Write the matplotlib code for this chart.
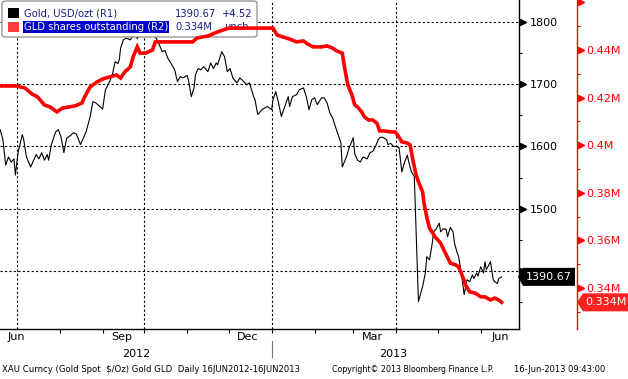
import matplotlib
matplotlib.use("Agg")
import matplotlib.pyplot as plt
import matplotlib.dates as mdates
import matplotlib.transforms as mtransforms
from matplotlib.patches import Rectangle, FancyBboxPatch, Polygon
from matplotlib.lines import Line2D
import pandas as pd

# Gold spot vs GLD shares outstanding, 16 Jun 2012 - 16 Jun 2013
start = pd.Timestamp("2012-06-16")

# gold spot, USD/ozt (days after start, value)
gold_day = [3, 5, 7, 9, 11, 13, 14, 16, 19, 20, 22, 25, 27, 29, 31, 33, 35, 37, 38, 40,
            43, 45, 47, 49, 51, 54, 56, 58, 61, 63, 65, 68, 70, 72, 75, 77, 79, 80, 82, 84,
            86, 88, 89, 90, 92, 94, 97, 99, 100, 102, 105, 108, 110, 113, 115, 117, 120, 122,
            124, 127, 129, 131, 133, 135, 138, 139, 141, 143, 144, 146, 148, 150, 153, 155,
            157, 159, 160, 163, 165, 167, 169, 171, 174, 176, 178, 181, 183, 186, 187, 189,
            192, 194, 196, 199, 200, 202, 204, 206, 209, 211, 212, 214, 217, 219, 222, 224,
            226, 228, 230, 232, 235, 237, 239, 241, 243, 245, 247, 249, 250, 253, 255, 258,
            259, 261, 263, 265, 268, 270, 272, 274, 276, 277, 279, 282, 283, 285, 287, 289,
            291, 293, 295, 297, 298, 300, 302, 305, 308, 310, 311, 313, 315, 316, 318, 320,
            321, 323, 325, 326, 328, 330, 331, 333, 334, 336, 338, 340, 342, 344, 345, 347,
            348, 350, 352, 353, 354, 357, 359, 360, 362, 363, 365]
gold_usd = [1627, 1611, 1570, 1583, 1575, 1580, 1554, 1591, 1619, 1611, 1583, 1567, 1577,
            1587, 1580, 1590, 1578, 1587, 1578, 1603, 1623, 1627, 1615, 1590, 1613, 1618,
            1622, 1620, 1603, 1613, 1623, 1648, 1672, 1670, 1664, 1660, 1691, 1695, 1704,
            1715, 1736, 1733, 1739, 1758, 1771, 1774, 1771, 1779, 1782, 1773, 1785, 1790,
            1784, 1778, 1776, 1768, 1752, 1754, 1742, 1731, 1723, 1704, 1712, 1710, 1714,
            1706, 1680, 1694, 1715, 1725, 1723, 1728, 1720, 1734, 1725, 1734, 1731, 1752,
            1744, 1720, 1725, 1710, 1702, 1710, 1706, 1699, 1702, 1680, 1675, 1651, 1659,
            1662, 1664, 1659, 1675, 1688, 1670, 1648, 1667, 1680, 1664, 1680, 1683, 1691,
            1694, 1680, 1659, 1675, 1678, 1667, 1678, 1678, 1670, 1654, 1646, 1632, 1619,
            1606, 1567, 1583, 1598, 1614, 1588, 1578, 1575, 1583, 1580, 1590, 1592, 1600,
            1611, 1614, 1615, 1611, 1603, 1605, 1600, 1600, 1598, 1559, 1575, 1586, 1575,
            1559, 1552, 1351, 1375, 1397, 1423, 1418, 1445, 1463, 1468, 1477, 1463, 1468,
            1467, 1455, 1470, 1463, 1445, 1429, 1423, 1397, 1362, 1386, 1383, 1394, 1388,
            1397, 1392, 1407, 1397, 1415, 1402, 1415, 1386, 1383, 1380, 1388, 1390.67]

# GLD shares outstanding, millions
gld_day = [3, 15, 21, 26, 30, 35, 39, 44, 48, 53, 57, 62, 64, 68, 73, 77, 82, 87, 90, 93,
           97, 99, 102, 104, 108, 113, 115, 120, 129, 142, 145, 153, 160, 168, 180, 200,
           203, 207, 212, 217, 222, 225, 229, 235, 239, 243, 246, 250, 252, 254, 257, 259,
           261, 264, 266, 269, 272, 275, 277, 280, 285, 288, 290, 293, 297, 299, 301, 303,
           305, 308, 309, 311, 313, 317, 321, 324, 328, 332, 334, 337, 339, 342, 346, 350,
           353, 357, 360, 363, 365]
gld_shares = [0.4249, 0.4249, 0.4240, 0.4215, 0.4203, 0.4169, 0.4161, 0.4140, 0.4156,
              0.4161, 0.4165, 0.4177, 0.4203, 0.4245, 0.4266, 0.4278, 0.4287, 0.4295,
              0.4282, 0.4308, 0.4329, 0.4371, 0.4413, 0.4387, 0.4387, 0.4400, 0.4434,
              0.4434, 0.4434, 0.4434, 0.4450, 0.4459, 0.4476, 0.4492, 0.4492, 0.4492,
              0.4463, 0.4455, 0.4446, 0.4434, 0.4438, 0.4425, 0.4413, 0.4413, 0.4417,
              0.4408, 0.4396, 0.4387, 0.4316, 0.4253, 0.4211, 0.4169, 0.4161, 0.4140,
              0.4119, 0.4106, 0.4106, 0.4093, 0.4060, 0.4060, 0.4056, 0.4056, 0.4043,
              0.4014, 0.4009, 0.4001, 0.3938, 0.3883, 0.3846, 0.3804, 0.3757, 0.3699,
              0.3652, 0.3615, 0.3589, 0.3552, 0.3505, 0.3497, 0.3489, 0.3447, 0.3413,
              0.3384, 0.3379, 0.3363, 0.3363, 0.3350, 0.3358, 0.3350, 0.334]

gold_ticks = [1400, 1500, 1600, 1700, 1800]
gold_tick_labels = ["", "1500", "1600", "1700", "1800"]  # 1400 sits under the last-price tag
gold_minor = [1350, 1450, 1550, 1650, 1750]
gld_ticks = [0.34, 0.36, 0.38, 0.40, 0.42, 0.44]
gld_minor = [0.33, 0.35, 0.37, 0.39, 0.41, 0.43, 0.45]
gld_tick_labels = ["0.34M", "0.36M", "0.38M", "0.4M", "0.42M", "0.44M"]
month_pos = ["2012-07-01", "2012-09-15", "2012-12-15", "2013-03-15", "2013-06-15"]
month_labels = ["Jun", "Sep", "Dec", "Mar", "Jun"]
quarter_lines = ["2012-07-01", "2012-10-01", "2013-01-01", "2013-04-01"]
years = [("2012", "2012-09-25"), ("2013", "2013-03-30")]

W, H = 628, 379
RED = "#ff0000"
NAVY = "#1c1c8a"

gold_dates = [start + pd.Timedelta(days=d) for d in gold_day]
gld_dates = [start + pd.Timedelta(days=d) for d in gld_day]

plt.rcParams['font.family'] = ['DejaVu Sans']
fig = plt.figure(figsize=(W / 100, H / 100), dpi=100)
ax = fig.add_axes([0, 50 / H, 519 / W, 329 / H])
ax.plot(gold_dates, gold_usd, color="black", lw=0.8, zorder=2)
ax.set_xlim(start + pd.Timedelta(days=2.9), start + pd.Timedelta(days=377.6))
ax.set_ylim(1307, 1835)

for s in ["left", "top"]:
    ax.spines[s].set_visible(False)
for s in ["right", "bottom"]:
    ax.spines[s].set_linewidth(1.0)
    ax.spines[s].set_color("black")

# x axis
ax.set_xticks([pd.Timestamp(d) for d in month_pos])
ax.set_xticklabels(month_labels)
ax.xaxis.set_minor_locator(mdates.MonthLocator())
ax.tick_params(axis="x", which="major", length=0, pad=2, labelsize=8)
ax.tick_params(axis="x", which="minor", length=3, width=0.8, direction="out")
for q in quarter_lines:
    ax.axvline(pd.Timestamp(q), color="black", lw=0.8, ls=(0, (2, 2)), zorder=1)

# GLD axis
ax2 = ax.twinx()
ax2.plot(gld_dates, gld_shares, color=RED, lw=2.6, solid_joinstyle="miter", zorder=3)
ax2.set_ylim(0.3228, 0.461)
for s in ["left", "top", "bottom"]:
    ax2.spines[s].set_visible(False)
ax2.spines["right"].set_position(("axes", 577 / 519))
ax2.spines["right"].set_color(RED)
ax2.spines["right"].set_linewidth(1.0)
ax2.set_yticks(gld_ticks)
ax2.set_yticklabels(gld_tick_labels)
ax2.set_yticks(gld_minor, minor=True)
ax2.tick_params(axis="y", which="major", length=0, pad=7, labelsize=8, labelcolor=RED)
ax2.tick_params(axis="y", which="minor", length=2.5, width=0.8, color=RED, direction="out")
tri2 = mtransforms.blended_transform_factory(ax2.transAxes, ax2.transData)
ax2.plot([577 / 519 + 3.5 / 519] * (len(gld_ticks) + 1), gld_ticks + [0.46], ls="none",
         marker=">", ms=5, color=RED, transform=tri2, clip_on=False, zorder=6)

# gold axis on the right (after twinx, which moves it left)
ax.yaxis.tick_right()
ax.set_yticks(gold_ticks)
ax.set_yticklabels(gold_tick_labels)
ax.set_yticks(gold_minor, minor=True)
ax.tick_params(axis="y", which="both", left=False, labelleft=False, right=True, labelright=True)
ax.tick_params(axis="y", which="major", length=0, pad=8, labelsize=8, labelcolor="black")
ax.tick_params(axis="y", which="minor", length=2.5, width=0.8, color="black", direction="out")
ax.yaxis.grid(True, which="major", color="black", lw=0.8, ls=(0, (2, 2)))
tri = mtransforms.blended_transform_factory(ax.transAxes, ax.transData)
ax.plot([1 + 3.5 / 519] * len(gold_ticks), gold_ticks, ls="none", marker=">", ms=5,
        color="black", transform=tri, clip_on=False, zorder=6)


def fx(x):
    return x / W


def fy(y):
    return 1 - y / H


# legend box (drawn in gold axes: above black line, below red line)
ft = fig.transFigure
ax.add_patch(FancyBboxPatch((fx(2), fy(37)), fx(255), 36 / H, boxstyle="round,pad=0,rounding_size=0.006",
                            transform=ft, facecolor="white", edgecolor="#8c8c8c", lw=0.9,
                            zorder=5, clip_on=False))
ax.add_patch(Rectangle((fx(8), fy(18)), fx(11), 10 / H, transform=ft, facecolor="black",
                       edgecolor="none", zorder=6, clip_on=False))
ax.add_patch(Rectangle((fx(8), fy(32)), fx(11), 10 / H, transform=ft, facecolor="#ff3b3b",
                       edgecolor="none", zorder=6, clip_on=False))
ax.add_patch(Rectangle((fx(23), fy(32.5)), fx(146), 11.5 / H, transform=ft, facecolor="#0000c8",
                       edgecolor="none", zorder=6, clip_on=False))
lk = dict(transform=ft, fontsize=7.2, va="center", zorder=7, clip_on=False)
ax.text(fx(24), fy(14), "Gold, USD/ozt (R1)", color=NAVY, **lk)
ax.text(fx(24), fy(27), "GLD shares outstanding (R2)", color="white", **lk)
ax.text(fx(175), fy(14), "1390.67", color=NAVY, **lk)
ax.text(fx(222), fy(14), "+4.52", color=NAVY, **lk)
ax.text(fx(175), fy(27), "0.334M", color=NAVY, **lk)
ax.text(fx(224), fy(27), "unch", color=NAVY, **lk)

# last value tags
fig.canvas.draw()
yc = ax.transData.transform((0, gold_usd[-1]))[1]
fig.patches.append(Polygon([(518, yc), (523, yc + 9), (575, yc + 9), (575, yc - 9), (523, yc - 9)],
                           closed=True, transform=None, facecolor="black", edgecolor="none"))
fig.text(fx(549), yc / H, "1390.67", color="white", fontsize=8, ha="center", va="center")
yr = ax2.transData.transform((0, gld_shares[-1]))[1]
fig.patches.append(Polygon([(577, yr), (583, yr + 9), (628, yr + 9), (628, yr - 9), (583, yr - 9)],
                           closed=True, transform=None, facecolor="#ff2020", edgecolor="none"))
fig.text(fx(606), yr / H, "0.334M", color="white", fontsize=8, ha="center", va="center")

# years and separator
yt = mtransforms.blended_transform_factory(ax.transData, ft)
for label, d in years:
    ax.text(pd.Timestamp(d), fy(354), label, transform=yt, ha="center", va="center",
            fontsize=8, clip_on=False)
ax.add_line(Line2D([pd.Timestamp("2013-01-01")] * 2, [fy(341), fy(357)], transform=yt,
                   color="#777777", lw=0.8, clip_on=False))

# footer
fig.text(fx(2), fy(369), "XAU Curncy (Gold Spot  $/Oz) Gold GLD  Daily 16JUN2012-16JUN2013",
         fontsize=6.1, va="center")
fig.text(fx(332), fy(369), "Copyright\u00a9 2013 Bloomberg Finance L.P.", fontsize=5.7, va="center")
fig.text(fx(514), fy(369), "16-Jun-2013 09:43:00", fontsize=6.0, va="center")

fig.savefig("out.png", dpi=100)
